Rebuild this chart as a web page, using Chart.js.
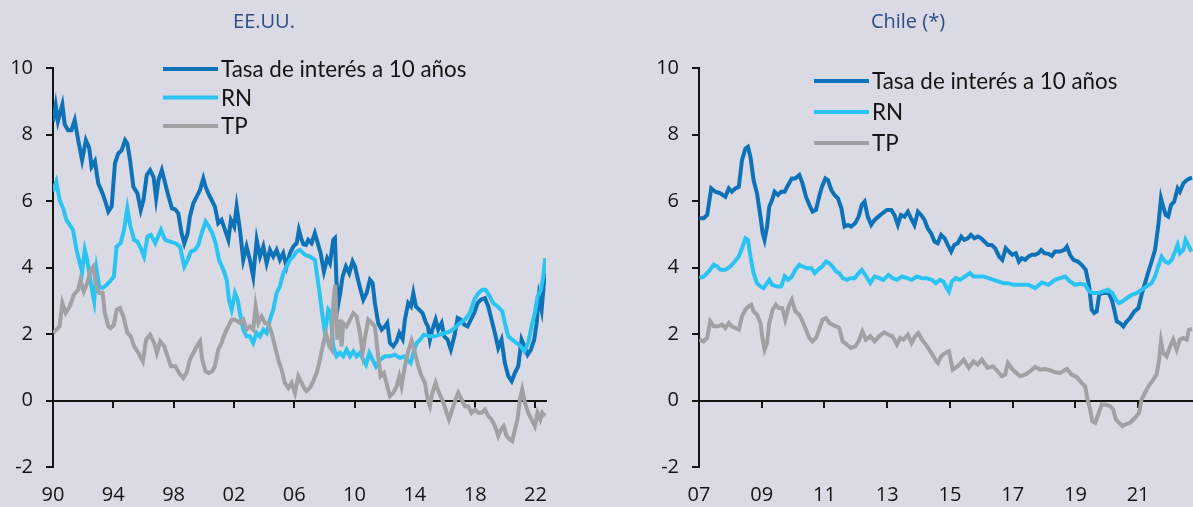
<!DOCTYPE html>
<html lang="es">
<head>
<meta charset="utf-8">
<title>Tasa de interés a 10 años: EE.UU. y Chile</title>
<script src="https://cdn.jsdelivr.net/npm/chart.js@4.4.1/dist/chart.umd.min.js"></script>
<style>
  html, body { margin: 0; padding: 0; background: #dadae5; }
  body { width: 1193px; height: 507px; position: relative; overflow: hidden; }
  canvas { position: absolute; top: 0; }
  #usChart { left: 0; }
  #clChart { left: 596px; }
</style>
</head>
<body>
<canvas id="usChart" width="596" height="507"></canvas>
<canvas id="clChart" width="597" height="507"></canvas>
<script>
// ---- data: [year, percent] ----

const usRate = [
  [1990.00, 8.38], [1990.18, 8.88], [1990.33, 8.40], [1990.62, 8.90], [1990.78, 8.30],
  [1991.00, 8.13], [1991.22, 8.13], [1991.44, 8.43], [1991.67, 7.83], [1991.93, 7.23],
  [1992.18, 7.83], [1992.40, 7.60], [1992.56, 7.03], [1992.78, 7.20], [1993.00, 6.53],
  [1993.29, 6.23], [1993.51, 5.93], [1993.67, 5.68], [1993.89, 5.83], [1994.11, 7.13],
  [1994.33, 7.43], [1994.56, 7.53], [1994.78, 7.83], [1994.93, 7.73], [1995.11, 7.23],
  [1995.33, 6.43], [1995.60, 6.23], [1995.82, 5.73], [1996.00, 6.03], [1996.22, 6.78],
  [1996.44, 6.93], [1996.67, 6.73], [1996.84, 6.08], [1997.00, 6.63], [1997.22, 6.93],
  [1997.44, 6.53], [1997.67, 6.13], [1997.89, 5.78], [1998.09, 5.75], [1998.31, 5.63],
  [1998.53, 5.03], [1998.71, 4.73], [1998.93, 5.03], [1999.08, 5.53], [1999.31, 5.93],
  [1999.53, 6.13], [1999.75, 6.33], [1999.97, 6.68], [2000.12, 6.43], [2000.30, 6.23],
  [2000.52, 6.03], [2000.74, 5.83], [2000.96, 5.33], [2001.18, 5.43], [2001.41, 5.13],
  [2001.63, 4.83], [2001.80, 5.43], [2002.02, 5.23], [2002.18, 5.83], [2002.40, 5.13],
  [2002.62, 4.23], [2002.84, 4.63], [2003.06, 4.23], [2003.28, 3.73], [2003.51, 4.83],
  [2003.73, 4.33], [2003.95, 4.63], [2004.17, 4.13], [2004.39, 4.53], [2004.61, 4.33],
  [2004.83, 4.53], [2005.05, 4.23], [2005.27, 4.43], [2005.49, 4.03], [2005.72, 4.43],
  [2005.94, 4.63], [2006.16, 4.73], [2006.31, 5.13], [2006.49, 4.83], [2006.62, 4.70],
  [2006.78, 4.68], [2006.93, 4.83], [2007.15, 4.73], [2007.37, 5.03], [2007.53, 4.78],
  [2007.75, 4.43], [2007.97, 3.88], [2008.19, 4.28], [2008.37, 4.13], [2008.59, 4.83],
  [2008.70, 4.88], [2008.80, 3.60], [2008.92, 2.90], [2009.05, 3.23], [2009.21, 3.73],
  [2009.43, 4.03], [2009.65, 3.83], [2009.87, 4.18], [2010.03, 4.03], [2010.18, 3.73],
  [2010.40, 3.33], [2010.58, 3.03], [2010.80, 3.23], [2011.02, 3.63], [2011.20, 3.53],
  [2011.35, 2.93], [2011.57, 2.33], [2011.80, 2.13], [2012.02, 2.23], [2012.17, 2.33],
  [2012.35, 1.73], [2012.57, 1.63], [2012.79, 1.78], [2012.97, 2.03], [2013.19, 1.85],
  [2013.34, 2.43], [2013.56, 2.93], [2013.74, 2.83], [2013.90, 3.23], [2014.07, 2.83],
  [2014.29, 2.73], [2014.51, 2.63], [2014.74, 2.33], [2014.87, 2.23], [2015.00, 1.83],
  [2015.16, 2.13], [2015.38, 2.43], [2015.55, 2.13], [2015.78, 2.33], [2015.95, 1.93],
  [2016.17, 1.83], [2016.39, 1.53], [2016.62, 1.93], [2016.84, 2.48], [2017.06, 2.43],
  [2017.28, 2.28], [2017.50, 2.23], [2017.72, 2.43], [2017.94, 2.63], [2018.16, 2.93],
  [2018.38, 3.03], [2018.65, 3.08], [2018.87, 2.83], [2019.09, 2.43], [2019.31, 2.03],
  [2019.53, 1.58], [2019.75, 1.83], [2019.97, 1.13], [2020.20, 0.73], [2020.42, 0.58],
  [2020.64, 0.83], [2020.86, 1.03], [2021.08, 1.83], [2021.26, 1.63], [2021.48, 1.38],
  [2021.70, 1.53], [2021.92, 1.83], [2022.08, 2.33], [2022.23, 3.13], [2022.41, 2.73],
  [2022.56, 3.53], [2022.67, 3.83]
];

const usRn = [
  [1990.00, 6.28], [1990.22, 6.58], [1990.44, 6.03], [1990.67, 5.78], [1990.89, 5.43],
  [1991.11, 5.28], [1991.33, 5.13], [1991.56, 4.53], [1991.78, 4.13], [1991.93, 3.88],
  [1992.11, 4.53], [1992.27, 4.23], [1992.44, 3.73], [1992.62, 3.23], [1992.73, 2.98],
  [1992.89, 3.93], [1993.07, 3.43], [1993.29, 3.38], [1993.56, 3.48], [1993.78, 3.58],
  [1994.04, 3.73], [1994.22, 4.63], [1994.49, 4.73], [1994.71, 5.13], [1994.93, 5.78],
  [1995.11, 5.28], [1995.38, 4.83], [1995.60, 4.78], [1995.82, 4.58], [1996.04, 4.33],
  [1996.27, 4.93], [1996.49, 4.98], [1996.78, 4.73], [1997.16, 5.13], [1997.44, 4.83],
  [1997.78, 4.78], [1998.11, 4.73], [1998.42, 4.63], [1998.71, 4.03], [1998.93, 4.23],
  [1999.15, 4.48], [1999.42, 4.53], [1999.64, 4.68], [1999.86, 5.03], [2000.12, 5.38],
  [2000.34, 5.23], [2000.57, 5.03], [2000.79, 4.73], [2001.01, 4.23], [2001.30, 3.93],
  [2001.52, 3.63], [2001.67, 3.03], [2001.85, 2.73], [2002.07, 3.23], [2002.25, 3.03],
  [2002.40, 2.63], [2002.62, 2.13], [2002.84, 1.93], [2003.06, 1.93], [2003.28, 1.73],
  [2003.51, 2.03], [2003.73, 1.93], [2003.95, 2.13], [2004.17, 2.03], [2004.39, 2.43],
  [2004.61, 2.73], [2004.83, 3.23], [2005.05, 3.43], [2005.27, 3.83], [2005.49, 4.03],
  [2005.72, 4.23], [2005.94, 4.33], [2006.16, 4.48], [2006.38, 4.53], [2006.71, 4.38],
  [2007.04, 4.33], [2007.37, 4.23], [2007.53, 3.73], [2007.71, 3.13], [2007.88, 2.53],
  [2008.04, 2.03], [2008.26, 2.73], [2008.41, 2.63], [2008.59, 1.63], [2008.81, 1.33],
  [2009.03, 1.43], [2009.25, 1.33], [2009.47, 1.53], [2009.70, 1.33], [2009.92, 1.48],
  [2010.14, 1.33], [2010.36, 1.43], [2010.58, 1.23], [2010.76, 1.08], [2010.98, 1.43],
  [2011.20, 1.23], [2011.42, 1.03], [2011.69, 1.23], [2012.02, 1.33], [2012.35, 1.33],
  [2012.68, 1.38], [2013.01, 1.28], [2013.28, 1.33], [2013.50, 1.23], [2013.72, 1.13],
  [2013.90, 1.43], [2014.12, 1.73], [2014.34, 1.83], [2014.60, 1.98], [2015.00, 1.93],
  [2015.33, 1.93], [2015.66, 1.98], [2016.00, 2.03], [2016.33, 2.08], [2016.66, 2.18],
  [2016.99, 2.33], [2017.32, 2.43], [2017.65, 2.63], [2017.94, 3.03], [2018.21, 3.23],
  [2018.47, 3.33], [2018.69, 3.33], [2018.91, 3.18], [2019.20, 2.93], [2019.49, 2.83],
  [2019.80, 2.68], [2020.02, 2.23], [2020.20, 1.93], [2020.46, 1.83], [2020.75, 1.73],
  [2021.04, 1.63], [2021.26, 1.48], [2021.52, 1.73], [2021.74, 2.23], [2021.96, 2.63],
  [2022.14, 3.13], [2022.36, 3.33], [2022.52, 3.73], [2022.65, 4.28]
];

const usTp = [
  [1990.00, 2.03], [1990.22, 2.13], [1990.44, 2.23], [1990.62, 2.93], [1990.84, 2.63],
  [1991.11, 2.83], [1991.38, 3.18], [1991.67, 3.33], [1991.82, 3.63], [1992.04, 3.28],
  [1992.27, 3.53], [1992.49, 3.93], [1992.67, 4.03], [1992.84, 3.53], [1993.07, 3.23],
  [1993.29, 3.23], [1993.44, 2.63], [1993.67, 2.23], [1993.82, 2.18], [1994.04, 2.28],
  [1994.22, 2.73], [1994.44, 2.78], [1994.67, 2.53], [1994.93, 2.03], [1995.16, 1.93],
  [1995.38, 1.63], [1995.67, 1.43], [1995.96, 1.18], [1996.18, 1.83], [1996.44, 1.98],
  [1996.71, 1.73], [1996.89, 1.43], [1997.11, 1.78], [1997.38, 1.63], [1997.60, 1.33],
  [1997.82, 1.03], [1998.11, 1.03], [1998.40, 0.80], [1998.64, 0.68], [1998.86, 0.83],
  [1999.08, 1.23], [1999.31, 1.43], [1999.53, 1.63], [1999.75, 1.78], [1999.90, 1.23],
  [2000.12, 0.88], [2000.34, 0.83], [2000.57, 0.88], [2000.74, 1.03], [2000.96, 1.53],
  [2001.18, 1.73], [2001.41, 2.03], [2001.63, 2.23], [2001.85, 2.43], [2002.07, 2.43],
  [2002.40, 2.33], [2002.62, 2.43], [2002.84, 2.13], [2003.06, 2.23], [2003.28, 2.13],
  [2003.44, 2.83], [2003.62, 2.33], [2003.84, 2.53], [2004.06, 2.33], [2004.28, 2.33],
  [2004.50, 2.03], [2004.72, 1.63], [2004.94, 1.23], [2005.16, 0.93], [2005.38, 0.53],
  [2005.61, 0.38], [2005.83, 0.53], [2006.05, 0.23], [2006.27, 0.73], [2006.49, 0.53],
  [2006.71, 0.33], [2006.82, 0.28], [2007.04, 0.38], [2007.26, 0.58], [2007.49, 0.83],
  [2007.71, 1.23], [2007.93, 1.73], [2008.10, 2.03], [2008.33, 1.63], [2008.48, 1.53],
  [2008.59, 2.93], [2008.72, 3.48], [2008.86, 1.83], [2008.99, 2.43], [2009.14, 1.63],
  [2009.25, 2.33], [2009.47, 2.23], [2009.70, 2.43], [2009.92, 2.63], [2010.14, 2.53],
  [2010.36, 2.03], [2010.54, 1.43], [2010.71, 1.93], [2010.91, 2.43], [2011.13, 2.33],
  [2011.35, 2.23], [2011.57, 1.33], [2011.73, 0.73], [2011.95, 0.83], [2012.17, 0.43],
  [2012.35, 0.13], [2012.57, 0.23], [2012.79, 0.43], [2012.97, 0.73], [2013.12, 0.43],
  [2013.34, 1.03], [2013.56, 1.48], [2013.78, 1.80], [2014.01, 1.43], [2014.23, 1.03],
  [2014.45, 0.73], [2014.67, 0.53], [2014.85, 0.03], [2015.00, -0.17], [2015.16, 0.23],
  [2015.38, 0.53], [2015.60, 0.23], [2015.82, 0.03], [2016.04, -0.27], [2016.26, -0.57],
  [2016.48, -0.27], [2016.70, 0.03], [2016.88, 0.23], [2017.10, 0.03], [2017.32, -0.17],
  [2017.54, -0.17], [2017.76, -0.37], [2017.99, -0.27], [2018.21, -0.37], [2018.43, -0.37],
  [2018.65, -0.27], [2018.87, -0.47], [2019.09, -0.57], [2019.31, -0.77], [2019.53, -1.07],
  [2019.71, -0.87], [2019.89, -0.77], [2020.09, -1.07], [2020.31, -1.17], [2020.46, -1.22],
  [2020.64, -0.87], [2020.81, -0.57], [2020.97, 0.03], [2021.12, 0.33], [2021.30, -0.07],
  [2021.52, -0.37], [2021.74, -0.57], [2021.96, -0.77], [2022.14, -0.37], [2022.32, -0.57],
  [2022.45, -0.37], [2022.63, -0.47]
];

const clRate = [
  [2007.01, 5.48], [2007.15, 5.48], [2007.26, 5.58], [2007.39, 6.38], [2007.52, 6.28],
  [2007.68, 6.23], [2007.84, 6.13], [2007.95, 6.38], [2008.05, 6.28], [2008.16, 6.38],
  [2008.27, 6.43], [2008.37, 7.23], [2008.48, 7.58], [2008.56, 7.63], [2008.64, 7.33],
  [2008.74, 6.63], [2008.85, 6.23], [2008.96, 5.53], [2009.03, 5.03], [2009.09, 4.83],
  [2009.17, 5.23], [2009.24, 5.83], [2009.33, 6.03], [2009.41, 6.28], [2009.52, 6.18],
  [2009.62, 6.28], [2009.73, 6.28], [2009.84, 6.48], [2009.96, 6.68], [2010.07, 6.68],
  [2010.20, 6.78], [2010.30, 6.53], [2010.41, 6.13], [2010.52, 5.88], [2010.62, 5.68],
  [2010.73, 5.73], [2010.83, 6.13], [2010.92, 6.43], [2011.03, 6.68], [2011.11, 6.63],
  [2011.22, 6.33], [2011.32, 6.18], [2011.43, 6.08], [2011.54, 5.78], [2011.64, 5.23],
  [2011.75, 5.28], [2011.85, 5.23], [2011.98, 5.33], [2012.09, 5.53], [2012.19, 5.88],
  [2012.28, 5.98], [2012.38, 5.53], [2012.49, 5.28], [2012.60, 5.43], [2012.72, 5.53],
  [2012.85, 5.63], [2012.99, 5.73], [2013.13, 5.73], [2013.23, 5.58], [2013.34, 5.28],
  [2013.44, 5.58], [2013.55, 5.53], [2013.66, 5.68], [2013.76, 5.48], [2013.87, 5.28],
  [2013.98, 5.68], [2014.08, 5.58], [2014.19, 5.43], [2014.29, 5.18], [2014.40, 5.03],
  [2014.51, 4.78], [2014.61, 4.73], [2014.72, 4.98], [2014.83, 4.88], [2014.93, 4.68],
  [2015.04, 4.48], [2015.14, 4.68], [2015.25, 4.73], [2015.36, 4.93], [2015.46, 4.83],
  [2015.57, 4.88], [2015.67, 4.98], [2015.78, 4.88], [2015.89, 4.93], [2015.99, 4.88],
  [2016.10, 4.78], [2016.21, 4.68], [2016.33, 4.68], [2016.44, 4.58], [2016.57, 4.33],
  [2016.67, 4.23], [2016.78, 4.58], [2016.88, 4.48], [2016.99, 4.38], [2017.10, 4.43],
  [2017.20, 4.18], [2017.29, 4.28], [2017.40, 4.23], [2017.50, 4.33], [2017.61, 4.38],
  [2017.72, 4.38], [2017.82, 4.43], [2017.91, 4.53], [2018.01, 4.43], [2018.14, 4.41],
  [2018.25, 4.35], [2018.35, 4.48], [2018.51, 4.48], [2018.65, 4.53], [2018.73, 4.63],
  [2018.83, 4.38], [2018.94, 4.23], [2019.08, 4.18], [2019.20, 4.08], [2019.33, 3.93],
  [2019.44, 3.43], [2019.52, 2.73], [2019.60, 2.63], [2019.68, 2.68], [2019.76, 3.18],
  [2019.86, 3.23], [2019.97, 3.23], [2020.07, 3.23], [2020.16, 3.03], [2020.24, 2.73],
  [2020.32, 2.38], [2020.42, 2.33], [2020.53, 2.23], [2020.64, 2.38], [2020.74, 2.48],
  [2020.88, 2.68], [2021.01, 2.78], [2021.11, 3.18], [2021.22, 3.53], [2021.33, 3.88],
  [2021.43, 4.18], [2021.54, 4.53], [2021.64, 5.23], [2021.73, 6.08], [2021.80, 5.83],
  [2021.88, 5.58], [2021.96, 5.53], [2022.05, 5.88], [2022.15, 5.98], [2022.26, 6.38],
  [2022.33, 6.28], [2022.44, 6.53], [2022.55, 6.63], [2022.65, 6.68], [2022.72, 6.70]
];

const clRn = [
  [2007.01, 3.68], [2007.15, 3.73], [2007.31, 3.88], [2007.47, 4.08], [2007.58, 4.03],
  [2007.68, 3.93], [2007.84, 3.93], [2008.00, 4.03], [2008.14, 4.18], [2008.27, 4.33],
  [2008.37, 4.58], [2008.48, 4.88], [2008.56, 4.83], [2008.64, 4.33], [2008.74, 3.83],
  [2008.85, 3.53], [2008.96, 3.43], [2009.06, 3.38], [2009.17, 3.53], [2009.24, 3.63],
  [2009.33, 3.48], [2009.49, 3.43], [2009.62, 3.43], [2009.73, 3.73], [2009.84, 3.63],
  [2009.96, 3.73], [2010.07, 3.93], [2010.20, 4.08], [2010.30, 4.03], [2010.44, 3.98],
  [2010.58, 3.98], [2010.69, 3.83], [2010.79, 3.93], [2010.92, 4.03], [2011.05, 4.18],
  [2011.15, 4.13], [2011.26, 4.03], [2011.37, 3.88], [2011.47, 3.83], [2011.58, 3.68],
  [2011.72, 3.63], [2011.82, 3.68], [2011.96, 3.68], [2012.09, 3.83], [2012.19, 3.93],
  [2012.30, 3.78], [2012.46, 3.53], [2012.60, 3.73], [2012.74, 3.68], [2012.88, 3.63],
  [2013.04, 3.78], [2013.17, 3.68], [2013.31, 3.63], [2013.47, 3.73], [2013.63, 3.68],
  [2013.78, 3.63], [2013.94, 3.73], [2014.10, 3.68], [2014.26, 3.68], [2014.42, 3.63],
  [2014.55, 3.53], [2014.69, 3.63], [2014.79, 3.58], [2014.90, 3.38], [2014.97, 3.28],
  [2015.06, 3.58], [2015.19, 3.68], [2015.32, 3.63], [2015.48, 3.73], [2015.64, 3.83],
  [2015.75, 3.73], [2015.91, 3.73], [2016.07, 3.73], [2016.23, 3.68], [2016.39, 3.63],
  [2016.54, 3.58], [2016.70, 3.53], [2016.86, 3.53], [2017.02, 3.48], [2017.18, 3.48],
  [2017.50, 3.48], [2017.72, 3.38], [2017.93, 3.55], [2018.14, 3.48], [2018.35, 3.63],
  [2018.51, 3.68], [2018.67, 3.73], [2018.83, 3.58], [2018.99, 3.48], [2019.15, 3.51],
  [2019.31, 3.48], [2019.44, 3.28], [2019.57, 3.23], [2019.73, 3.23], [2019.89, 3.28],
  [2020.05, 3.33], [2020.18, 3.23], [2020.29, 3.03], [2020.39, 2.93], [2020.50, 2.98],
  [2020.64, 3.08], [2020.80, 3.18], [2020.95, 3.23], [2021.11, 3.33], [2021.27, 3.43],
  [2021.43, 3.53], [2021.54, 3.73], [2021.64, 4.03], [2021.75, 4.33], [2021.86, 4.18],
  [2021.96, 4.13], [2022.07, 4.23], [2022.18, 4.48], [2022.26, 4.68], [2022.33, 4.43],
  [2022.44, 4.53], [2022.51, 4.83], [2022.60, 4.68], [2022.70, 4.48]
];

const clTp = [
  [2007.01, 1.83], [2007.15, 1.78], [2007.26, 1.88], [2007.36, 2.38], [2007.47, 2.23],
  [2007.61, 2.23], [2007.74, 2.28], [2007.84, 2.18], [2007.95, 2.33], [2008.05, 2.23],
  [2008.16, 2.18], [2008.27, 2.13], [2008.37, 2.53], [2008.48, 2.73], [2008.58, 2.83],
  [2008.67, 2.88], [2008.74, 2.68], [2008.85, 2.58], [2008.96, 2.33], [2009.03, 1.83],
  [2009.09, 1.53], [2009.17, 1.73], [2009.24, 2.33], [2009.35, 2.73], [2009.45, 2.88],
  [2009.54, 2.78], [2009.65, 2.78], [2009.75, 2.43], [2009.86, 2.83], [2009.96, 3.03],
  [2010.07, 2.68], [2010.20, 2.58], [2010.30, 2.38], [2010.41, 2.13], [2010.52, 1.88],
  [2010.62, 1.78], [2010.73, 1.88], [2010.83, 2.13], [2010.94, 2.43], [2011.05, 2.48],
  [2011.16, 2.33], [2011.26, 2.28], [2011.37, 2.23], [2011.47, 2.18], [2011.58, 1.78],
  [2011.71, 1.68], [2011.85, 1.58], [2011.98, 1.63], [2012.09, 1.78], [2012.21, 2.08],
  [2012.32, 1.83], [2012.46, 1.93], [2012.60, 1.78], [2012.74, 1.93], [2012.91, 2.05],
  [2013.04, 1.98], [2013.17, 1.93], [2013.31, 1.68], [2013.41, 1.88], [2013.52, 1.83],
  [2013.66, 1.98], [2013.78, 1.73], [2013.89, 1.93], [2013.99, 2.03], [2014.11, 1.83],
  [2014.23, 1.68], [2014.34, 1.53], [2014.44, 1.38], [2014.55, 1.20], [2014.62, 1.13],
  [2014.72, 1.33], [2014.85, 1.43], [2014.97, 1.48], [2015.09, 0.93], [2015.25, 1.03],
  [2015.44, 1.23], [2015.60, 0.98], [2015.75, 1.18], [2015.88, 1.08], [2016.02, 1.23],
  [2016.20, 0.98], [2016.37, 1.03], [2016.52, 0.88], [2016.66, 0.73], [2016.76, 0.78],
  [2016.85, 1.13], [2017.00, 0.93], [2017.12, 0.83], [2017.24, 0.73], [2017.40, 0.78],
  [2017.56, 0.88], [2017.72, 1.01], [2017.88, 0.93], [2018.04, 0.95], [2018.19, 0.91],
  [2018.35, 0.85], [2018.51, 0.83], [2018.73, 0.95], [2018.88, 0.78], [2019.04, 0.71],
  [2019.20, 0.53], [2019.31, 0.43], [2019.39, 0.03], [2019.47, -0.27], [2019.54, -0.62],
  [2019.63, -0.67], [2019.73, -0.42], [2019.84, -0.12], [2019.97, -0.13], [2020.11, -0.17],
  [2020.21, -0.27], [2020.29, -0.57], [2020.39, -0.67], [2020.50, -0.77], [2020.60, -0.72],
  [2020.74, -0.67], [2020.90, -0.52], [2021.03, -0.37], [2021.11, 0.03], [2021.22, 0.23],
  [2021.33, 0.43], [2021.45, 0.58], [2021.59, 0.78], [2021.67, 1.23], [2021.73, 1.78],
  [2021.80, 1.43], [2021.91, 1.33], [2022.02, 1.63], [2022.12, 1.83], [2022.23, 1.53],
  [2022.33, 1.83], [2022.44, 1.88], [2022.55, 1.83], [2022.62, 2.13], [2022.72, 2.15]
];

// tick positions (years / percent); labels show the last two digits of the year
const usYearTicks = [1990, 1994, 1998, 2002, 2006, 2010, 2014, 2018, 2022];
const clYearTicks = [2007, 2009, 2011, 2013, 2015, 2017, 2019, 2021];
const yTicks = [-2, 0, 2, 4, 6, 8, 10];

const seriesNames = ["Tasa de interés a 10 años", "RN", "TP"];

document.addEventListener("DOMContentLoaded", function () {
  const FONT = "'Open Sans', 'Noto Sans', sans-serif";
  const LEGEND_FONT = "22.4px Lato, 'Open Sans', sans-serif";
  const INK = "#141414";

  const colors = {
    rate: "rgb(14, 114, 184)",
    rn: "rgb(43, 196, 242)",
    tp: "rgb(160, 161, 164)",
  };

  // draws the panel title and the small line legend in the top-left
  const titleLegend = {
    id: "titleLegend",
    afterDraw(chart, args, opts) {
      const c = chart.ctx;
      c.save();
      c.textBaseline = "middle";
      c.font = "20px " + FONT;
      c.fillStyle = "#2c4c88";
      c.textAlign = "center";
      c.fillText(opts.title, opts.titleX, 22);

      c.textAlign = "left";
      c.font = LEGEND_FONT;
      c.fillStyle = INK;
      chart.data.datasets.forEach(function (ds, i) {
        const y = opts.legendY + i * opts.legendGap;
        c.strokeStyle = ds.borderColor;
        c.lineWidth = 4;
        c.beginPath();
        c.moveTo(opts.legendX, y);
        c.lineTo(opts.legendX + 55, y);
        c.stroke();
        c.fillText(ds.label, opts.legendX + 58, y + 1);
      });
      c.restore();
    },
  };

  function toXY(pairs) {
    return pairs.map(function (p) {
      return { x: p[0], y: p[1] };
    });
  }

  function series(label, pairs, color, order) {
    return {
      label: label,
      data: toXY(pairs),
      borderColor: color,
      borderWidth: 4,
      pointRadius: 0,
      tension: 0,
      order: order, // lower order is painted on top
    };
  }

  function makeChart(canvasId, cfg) {
    const ctx = document.getElementById(canvasId).getContext("2d");
    const setTicks = function (list) {
      return function (scale) {
        scale.ticks = list.map(function (v) {
          return { value: v };
        });
      };
    };

    return new Chart(ctx, {
      type: "line",
      data: {
        datasets: [
          series(seriesNames[0], cfg.rate, colors.rate, 2),
          series(seriesNames[1], cfg.rn, colors.rn, 1),
          series(seriesNames[2], cfg.tp, colors.tp, 0),
        ],
      },
      options: {
        responsive: false,
        animation: false,
        layout: { padding: { top: 68, right: cfg.padRight, bottom: 0, left: 0 } },
        plugins: {
          legend: { display: false },
          tooltip: { enabled: false },
          titleLegend: cfg.deco,
        },
        scales: {
          // bottom axis: only the year labels
          x: {
            type: "linear",
            min: cfg.xMin,
            max: cfg.xMax,
            afterBuildTicks: setTicks(cfg.yearTicks),
            afterFit: function (s) { s.height = 40; },
            ticks: {
              callback: function (v) { return String(v).slice(2); },
              font: { family: FONT, size: 20 },
              color: INK,
              padding: 16,
              maxRotation: 0,
              autoSkip: false,
            },
            grid: { display: false, drawTicks: false },
            border: { display: false },
          },
          // axis line drawn at y = 0 with its tick marks
          zero: {
            type: "linear",
            axis: "x",
            position: { y: 0 },
            min: cfg.xMin,
            max: cfg.xMax,
            afterBuildTicks: setTicks(cfg.yearTicks),
            ticks: { display: false },
            grid: { drawOnChartArea: false, drawTicks: true, tickLength: 6, color: INK, lineWidth: 2 },
            border: { color: INK, width: 2 },
          },
          y: {
            min: -2,
            max: 10,
            afterBuildTicks: setTicks(yTicks),
            afterFit: function (s) { s.width = cfg.yWidth; },
            ticks: {
              font: { family: FONT, size: 20 },
              color: INK,
              padding: 13,
            },
            grid: { drawOnChartArea: false, drawTicks: true, tickLength: 7, color: INK, lineWidth: 2 },
            border: { color: INK, width: 2 },
          },
        },
      },
      plugins: [titleLegend],
    });
  }

  makeChart("usChart", {
    rate: usRate, rn: usRn, tp: usTp,
    xMin: 1990, xMax: 2022.7, yearTicks: usYearTicks,
    yWidth: 53, padRight: 50,
    deco: { title: "EE.UU.", titleX: 264, legendX: 163, legendY: 69, legendGap: 28.5 },
  });

  makeChart("clChart", {
    rate: clRate, rn: clRn, tp: clTp,
    xMin: 2007, xMax: 2022.75, yearTicks: clYearTicks,
    yWidth: 103, padRight: 0,
    deco: { title: "Chile (*)", titleX: 312, legendX: 218, legendY: 81, legendGap: 31 },
  });
});
</script>
</body>
</html>
